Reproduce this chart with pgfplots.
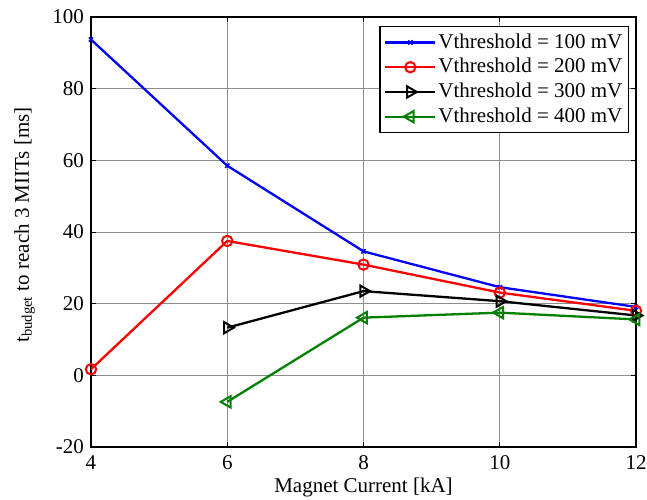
\documentclass[border=0pt]{standalone}
\usepackage{fontspec}
\setmainfont{Liberation Serif}
\usepackage{pgfplots}
\pgfplotsset{compat=1.18}
\definecolor{mgreen}{RGB}{0,128,0}
\begin{document}
\fontsize{21}{25}\selectfont
\begin{tikzpicture}
\begin{axis}[name=ax,
  scale only axis, width=545pt, height=430pt,
  xmin=4, xmax=12, ymin=-20, ymax=100,
  xtick={4,6,8,10,12}, ytick={-20,0,20,40,60,80,100},
  /pgf/number format/assume math mode=true,
  ticklabel style={font=\fontsize{21}{25}\selectfont},
  label style={font=\fontsize{21}{25}\selectfont},
  xlabel={Magnet Current [kA]},
  ylabel={t\textsubscript{budget} to reach 3 MIITs [ms]},
  xlabel style={yshift=6pt},
  ylabel style={yshift=3pt, xshift=7pt},
  grid=major, major grid style={black!45, line width=0.8pt},
  tick align=inside, major tick length=5pt,
  tick style={black, line width=0.8pt},
  axis line style={line width=1.6pt},
  xticklabel style={yshift=-1pt},
  legend cell align=left,
  legend style={at={(axis description cs:1,1)}, anchor=north east, xshift=-7pt, yshift=-9pt,
    font=\fontsize{21}{25}\selectfont, draw=black, line width=1.3pt, inner xsep=4pt, inner ysep=5pt,
    row sep=3pt},
  legend image code/.code={\draw[line width=2.3pt, mark repeat=2,mark phase=2] plot coordinates {(0pt,0pt)(25pt,0pt)(50pt,0pt)};},
  every axis plot/.append style={line width=2.3pt},
]
\addplot[blue, mark=x, mark size=3pt, mark options={line width=1.6pt}] coordinates {(4,93.7)(6,58.5)(8,34.6)(10,24.6)(12,19.1)};
\addlegendentry{Vthreshold = 100 mV}
\addplot[red, mark=o, mark size=5.2pt, mark options={line width=2pt}] coordinates {(4,1.7)(6,37.5)(8,30.9)(10,23.1)(12,18.0)};
\addlegendentry{Vthreshold = 200 mV}
\addplot[black, mark=triangle, mark size=6.5pt, mark options={rotate=-90, line width=2pt}] coordinates {(6,13.3)(8,23.5)(10,20.7)(12,16.7)};
\addlegendentry{Vthreshold = 300 mV}
\addplot[mgreen, mark=triangle, mark size=6.5pt, mark options={rotate=90, line width=2pt}] coordinates {(6,-7.4)(8,16.1)(10,17.5)(12,15.6)};
\addlegendentry{Vthreshold = 400 mV}
\end{axis}
\pgfresetboundingbox
\path[use as bounding box] ([xshift=-91pt,yshift=-52pt]ax.south west) rectangle ([xshift=11pt,yshift=17pt]ax.north east);
\end{tikzpicture}
\end{document}
